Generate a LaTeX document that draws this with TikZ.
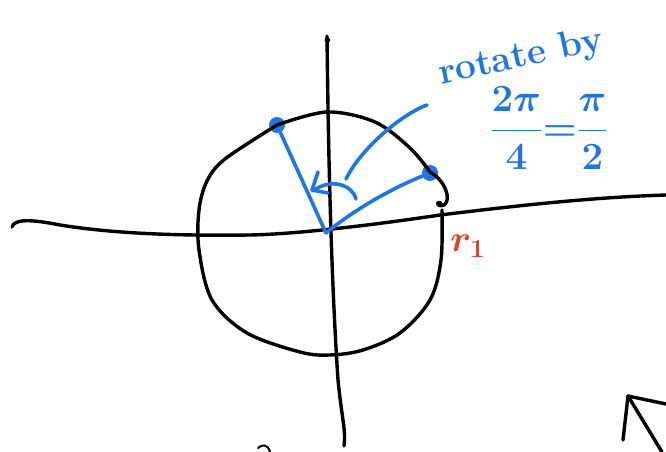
\documentclass[tikz,border=0pt]{standalone}
\usepackage{graphicx}
\usepackage{amsmath}
\usetikzlibrary{arrows.meta}
\definecolor{penblue}{RGB}{28,118,228}
\definecolor{penred}{RGB}{226,62,40}
\tikzset{
  ink/.style={line width=3.4pt, line cap=round, line join=round},
  blueink/.style={ink, penblue, line width=3.6pt},
  dot/.style={circle, fill=penblue, inner sep=0pt, minimum size=16pt},
  handtext/.style={penblue, inner sep=0pt}
}
\begin{document}
\begin{tikzpicture}[x=1pt,y=-1pt]
\useasboundingbox (0,0) rectangle (666,452);
% coordinates
\coordinate (O) at (326,233);
\node[dot] (P1) at (277,125) {};
\node[dot] (P2) at (430,173) {};
% axes
\draw[ink] (12,227) .. controls (14,219) and (30,219) .. (60,225) .. controls (110,233) and (170,236) .. (250,235) .. controls (300,234) and (380,224) .. (440,215) .. controls (530,204) and (600,197) .. (666,195);
\draw[ink] (327,36) .. controls (328,120) and (330,260) .. (338,380) .. controls (342,420) and (346,430) .. (344,446);
\fill (327.3,40) circle (2.8pt);
% circle
\draw[ink] plot[smooth, tension=0.55] coordinates {(277,125) (327,112) (375,122) (410,148) (430,172)}
  .. controls (445,180) and (452,200) .. (444,205) .. controls (436,208) and (436,200) .. (441,203)
  plot[smooth, tension=0.55] coordinates {(442,210) (441,260) (430,300) (400,333) (363,350) (330,355) (300,352) (247,333) (212,300) (199,250) (199,210) (207,181) (225,159) (277,125)};
% blue radii
\draw[blueink] (O) -- (P1);
\draw[blueink] (O) .. controls (360,205) and (400,185) .. (P2);
% rotation arc with head
\draw[blueink] (356,199) .. controls (352,184) and (330,178) .. (313,191);
\draw[blueink] (318,172) -- (312,190) -- (328,193);
% callout
\draw[blueink] (427,105) .. controls (400,115) and (360,150) .. (346,179);
% texts
\node[handtext, rotate=12, font=\fontsize{37}{42}\selectfont\bfseries] (rot) at (521,58) {rotate by};
\node[handtext, font=\fontsize{24}{28}\selectfont\boldmath] (frac) at (549,128) {\scalebox{1.55}{$\displaystyle\frac{2\pi}{4}{=}\frac{\pi}{2}$}};
\node[penred, font=\fontsize{24}{28}\selectfont\boldmath, inner sep=0pt] (r1) at (468,246) {\scalebox{1.5}{$r_1$}};
% partial text at bottom
\draw[ink, line width=2pt] (258,448) .. controls (262,444) and (268,444) .. (270,452);
% arrow at bottom right
\coordinate (T) at (628,396);
\draw[ink] (T) -- (623,440);
\draw[ink] (T) -- (666,404);
\draw[ink] (T) -- (662,452);
\end{tikzpicture}
\end{document}
